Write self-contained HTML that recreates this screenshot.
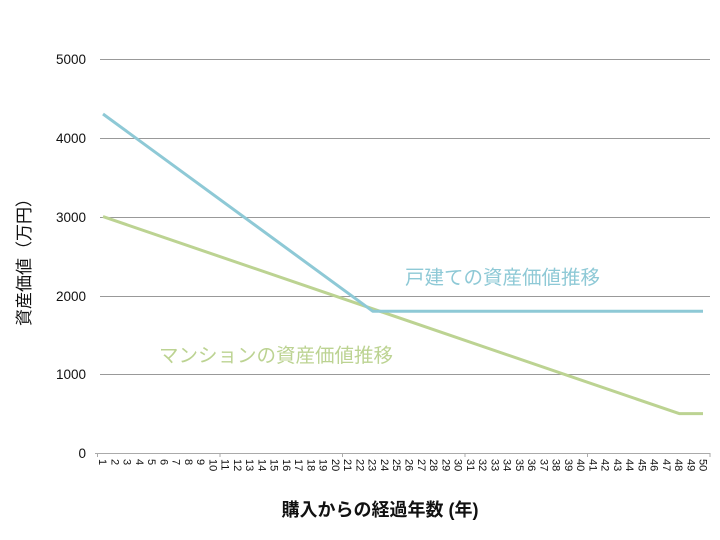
<!DOCTYPE html>
<html><head><meta charset="utf-8"><style>
html,body{margin:0;padding:0;background:#fff;width:720px;height:540px;overflow:hidden}
text{font-family:"Liberation Sans","Noto Sans CJK JP",sans-serif}
</style></head><body>
<svg width="720" height="540" xmlns="http://www.w3.org/2000/svg">
<g stroke="#999" stroke-width="1">
<line x1="100" y1="59.5" x2="710" y2="59.5"/>
<line x1="100" y1="138.5" x2="710" y2="138.5"/>
<line x1="100" y1="217.5" x2="710" y2="217.5"/>
<line x1="100" y1="296.5" x2="710" y2="296.5"/>
<line x1="100" y1="374.5" x2="710" y2="374.5"/>
<line x1="95" y1="453.5" x2="710" y2="453.5" stroke="#aaa"/>
<line x1="97.5" y1="453" x2="97.5" y2="457" stroke="#aaa"/>
<line x1="220" y1="453" x2="220" y2="457" stroke="#aaa"/>
<line x1="342.5" y1="453" x2="342.5" y2="457" stroke="#aaa"/>
<line x1="465" y1="453" x2="465" y2="457" stroke="#aaa"/>
<line x1="587.5" y1="453" x2="587.5" y2="457" stroke="#aaa"/>
<line x1="710" y1="453" x2="710" y2="457" stroke="#aaa"/>
</g>
<g font-size="13.5" fill="#111" text-anchor="end">
<text x="86" y="64">5000</text>
<text x="86" y="143">4000</text>
<text x="86" y="222">3000</text>
<text x="86" y="301">2000</text>
<text x="86" y="379">1000</text>
<text x="86" y="458">0</text>
</g>
<text transform="translate(30,258) rotate(-90)" font-size="17" text-anchor="middle" fill="#111">資産価値（万円）</text>
<text x="380" y="516" font-size="18" text-anchor="middle" fill="#111" font-weight="bold">購入からの経過年数 (年)</text>
<g font-size="11" fill="#111">
<text transform="translate(99,459) rotate(90)">1</text>
<text transform="translate(111.3,459) rotate(90)">2</text>
<text transform="translate(123.5,459) rotate(90)">3</text>
<text transform="translate(135.8,459) rotate(90)">4</text>
<text transform="translate(148,459) rotate(90)">5</text>
<text transform="translate(160.3,459) rotate(90)">6</text>
<text transform="translate(172.6,459) rotate(90)">7</text>
<text transform="translate(184.8,459) rotate(90)">8</text>
<text transform="translate(197.1,459) rotate(90)">9</text>
<text transform="translate(209.3,459) rotate(90)">10</text>
<text transform="translate(221.6,459) rotate(90)">11</text>
<text transform="translate(233.9,459) rotate(90)">12</text>
<text transform="translate(246.1,459) rotate(90)">13</text>
<text transform="translate(258.4,459) rotate(90)">14</text>
<text transform="translate(270.6,459) rotate(90)">15</text>
<text transform="translate(282.9,459) rotate(90)">16</text>
<text transform="translate(295.2,459) rotate(90)">17</text>
<text transform="translate(307.4,459) rotate(90)">18</text>
<text transform="translate(319.7,459) rotate(90)">19</text>
<text transform="translate(331.9,459) rotate(90)">20</text>
<text transform="translate(344.2,459) rotate(90)">21</text>
<text transform="translate(356.5,459) rotate(90)">22</text>
<text transform="translate(368.7,459) rotate(90)">23</text>
<text transform="translate(381,459) rotate(90)">24</text>
<text transform="translate(393.2,459) rotate(90)">25</text>
<text transform="translate(405.5,459) rotate(90)">26</text>
<text transform="translate(417.8,459) rotate(90)">27</text>
<text transform="translate(430,459) rotate(90)">28</text>
<text transform="translate(442.3,459) rotate(90)">29</text>
<text transform="translate(454.5,459) rotate(90)">30</text>
<text transform="translate(466.8,459) rotate(90)">31</text>
<text transform="translate(479.1,459) rotate(90)">32</text>
<text transform="translate(491.3,459) rotate(90)">33</text>
<text transform="translate(503.6,459) rotate(90)">34</text>
<text transform="translate(515.8,459) rotate(90)">35</text>
<text transform="translate(528.1,459) rotate(90)">36</text>
<text transform="translate(540.4,459) rotate(90)">37</text>
<text transform="translate(552.6,459) rotate(90)">38</text>
<text transform="translate(564.9,459) rotate(90)">39</text>
<text transform="translate(577.1,459) rotate(90)">40</text>
<text transform="translate(589.4,459) rotate(90)">41</text>
<text transform="translate(601.7,459) rotate(90)">42</text>
<text transform="translate(613.9,459) rotate(90)">43</text>
<text transform="translate(626.2,459) rotate(90)">44</text>
<text transform="translate(638.4,459) rotate(90)">45</text>
<text transform="translate(650.7,459) rotate(90)">46</text>
<text transform="translate(663,459) rotate(90)">47</text>
<text transform="translate(675.2,459) rotate(90)">48</text>
<text transform="translate(687.5,459) rotate(90)">49</text>
<text transform="translate(699.7,459) rotate(90)">50</text>
</g>
<polyline points="103,216.6 679.2,413.6 703,413.6" fill="none" stroke="#bcd392" stroke-width="3" stroke-linejoin="round"/>
<polyline points="103,114 372.7,311.2 703,311.2" fill="none" stroke="#8ec9d6" stroke-width="3" stroke-linejoin="round"/>
<text x="405" y="284" font-size="19.5" fill="#8ec9d6">戸建ての資産価値推移</text>
<text x="159" y="362" font-size="19.5" fill="#bcd392">マンションの資産価値推移</text>
</svg>
</body></html>
